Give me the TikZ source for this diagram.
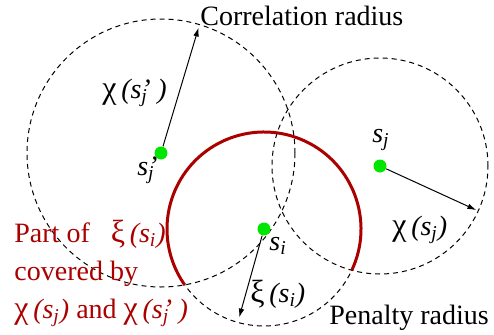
\documentclass[tikz,border=0pt]{standalone}
\usepackage{fontspec}
\setmainfont{Liberation Serif}
\usepackage{xcolor}
\usetikzlibrary{arrows.meta, positioning}

\definecolor{penred}{RGB}{170,0,0}
\definecolor{sitegreen}{RGB}{0,230,0}

% nhan chi(s), xi(s)
\newcommand{\grk}[1]{{\fontsize{16}{19}\selectfont #1}}
\newcommand{\chisub}[1]{\grk{χ}\textit{\,(s\textsubscript{#1})}}
\newcommand{\chisubp}[1]{\grk{χ}\textit{\,(s\rlap{’}\textsubscript{#1}\,\,)}}
\newcommand{\xisub}[1]{\grk{ξ}\textit{\,(s\textsubscript{#1})}}

\begin{document}
\begin{tikzpicture}[x=0.5pt, y=0.5pt, >={Latex[length=4.5pt,width=2.8pt]},
    every node/.style={font=\fontsize{14}{19}\selectfont, inner sep=0pt},
    site/.style={circle, fill=sitegreen, minimum size=6.5pt},
    radius line/.style={line width=0.5pt, dash pattern=on 2.5pt off 2pt},
    penalty arc/.style={line width=1.5pt, penred}]

    \useasboundingbox (0,0) rectangle (494,334);

    % =================================================================
    % 1. TAM CAC DUONG TRON
    % =================================================================
    \coordinate (csjp) at (161,181);
    \coordinate (csj) at (380,168);
    \coordinate (csi) at (264,105);

    % =================================================================
    % 2. CAC DUONG TRON NET DUT VA CUNG DO
    % =================================================================
    \draw[radius line] (csjp) circle[radius=134];
    \draw[radius line] (csj) circle[radius=108];
    \draw[radius line] (csi) circle[radius=97];
    \draw[penalty arc] (csi) ++(-25.1:97) arc[start angle=-25.1, end angle=215.2, radius=97];

    % =================================================================
    % 3. CAC DIEM VA BAN KINH
    % =================================================================
    \node[site] (sjp) at (csjp) {};
    \node[site] (sj) at (csj) {};
    \node[site] (si) at (csi) {};

    \path (csjp) ++(73.3:131) coordinate (rsjp);
    \path (csj) ++(-24.6:106) coordinate (rsj);
    \path (csi) ++(254.3:92) coordinate (rsi);

    \draw[->, line width=0.5pt] (sjp) -- (rsjp);
    \draw[->, line width=0.5pt] (sj) -- (rsj);
    \draw[->, line width=0.5pt] (si) -- (rsi);

    % =================================================================
    % 4. NHAN
    % =================================================================
    \node[below left=1.5pt and 3pt of sjp.center] (lsjp) {\textit{s\rlap{’}\textsubscript{j}}};
    \node[anchor=base] (lsj) at (381,192) {\textit{s\textsubscript{j}}};
    \node[anchor=base west] (lsi) at (269,84) {\textit{s\textsubscript{i}}};

    \node[anchor=base west] (chisjp) at (102,236) {\chisubp{j}};
    \node[anchor=base west] (chisj) at (392,99) {\chisub{j}};
    \node[anchor=base west] (xisi) at (250,32) {\xisub{i}};

    \node[anchor=base west] (corr) at (200,309) {Correlation radius};
    \node[anchor=base west] (pen) at (329,10) {Penalty radius};

    % dong cuoi cung nam o y = 16
    \node[anchor=base west, align=left, text=penred] (part) at (14,16)
        {Part of\hspace{0.75em}\xisub{i}\\ covered by\\ \chisub{j} and \chisubp{j}};

\end{tikzpicture}
\end{document}
